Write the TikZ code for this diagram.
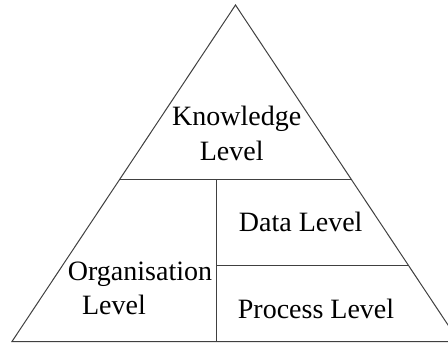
\documentclass[tikz,border=0pt]{standalone}
\usepackage{fontspec}
\setmainfont{Liberation Serif}
\begin{document}
\begin{tikzpicture}[x=1pt,y=-1pt,
  edge/.style={line width=1pt, draw=black!75},
  lbl/.style={anchor=base, inner sep=0pt, font=\fontsize{28}{34}\selectfont, text=black}]
\useasboundingbox (0,0) rectangle (448,343);
\clip (0,0) rectangle (448,343);
% outline of the pyramid
\coordinate (apex) at (235.5,5);
\coordinate (bl) at (12,341.5);
\coordinate (br) at (459,341.5);
% tier dividers
\coordinate (kl) at (120.1,179);
\coordinate (kr) at (350.9,179);
\coordinate (vtop) at (216,179);
\coordinate (vbot) at (216,341.5);
\coordinate (pl) at (216,265);
\coordinate (pr) at (407.9,265);
\draw[edge] (bl) -- (apex) -- (br) -- cycle;
\draw[edge] (kl) -- (kr);
\draw[edge] (vtop) -- (vbot);
\draw[edge] (pl) -- (pr);
% labels
\node[lbl] (know1) at (236.7,125) {Knowledge};
\node[lbl] (know2) at (231.7,160) {Level};
\node[lbl] (data) at (300.7,231.7) {Data Level};
\node[lbl] (proc) at (316,318.3) {Process Level};
\node[lbl] (org1) at (140,280) {Organisation};
\node[lbl] (org2) at (114,314) {Level};
\end{tikzpicture}
\end{document}
